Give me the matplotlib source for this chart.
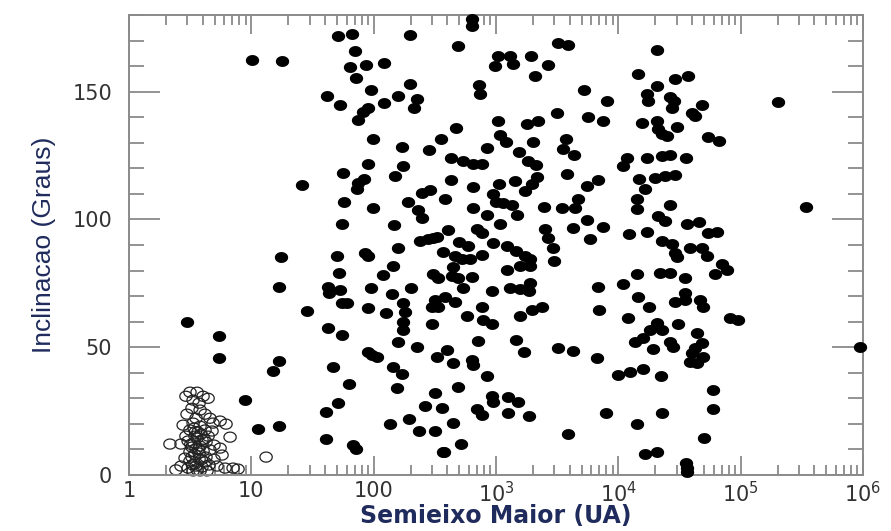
import numpy as np
import matplotlib
matplotlib.use("Agg")
import matplotlib.pyplot as plt
from matplotlib.path import Path
from matplotlib.ticker import MultipleLocator, LogLocator, NullFormatter

plt.rcParams['font.family'] = ['DejaVu Sans']
plt.rcParams['mathtext.fontset'] = 'dejavusans'

# objetos com orbita conhecida (pontos cheios): semieixo maior (UA), inclinacao (graus)
a_cheio = [2.98, 5.44, 5.44, 8.88, 11.3, 16.8, 15.0, 16.8, 16.8, 17.5, 26.0, 10.1, 17.8, 28.5,
           50.2, 85.1, 90.0, 158, 52.1, 42.4, 53.1, 43.2, 95.3, 119, 144, 141, 202, 55.2, 60.6,
           90.0, 126, 174, 181, 174, 174, 300, 300, 306, 42.4, 55.2, 158, 226, 90.0, 97.0, 107,
           330, 46.6, 144, 171, 62.9, 155, 318, 51.2, 40.8, 263, 136, 195, 235, 318, 40.8, 67.9,
           71.8, 369, 51.2, 66.6, 199, 70.5, 64.1, 86.7, 122, 71.8, 199, 95.3, 41.6, 53.1, 158,
           226, 214, 122, 90.0, 81.9, 74.5, 98.9, 171, 284, 356, 90.0, 56.2, 174, 150, 83.5, 74.5,
           73.1, 249, 289, 57.3, 98.9, 191, 231, 249, 55.2, 147, 239, 306,
           638, 638, 490, 3220, 3890, 1040, 1300, 984, 1380, 1940, 2670, 2090, 728, 741, 5250,
           8090, 3160, 5660, 7510, 1040, 1800, 2210, 472, 1080, 1210, 2010, 3740, 3540, 4350,
           11800, 10900, 846, 1550, 430, 538, 650, 770, 1830, 2130, 3810, 430, 650, 1060, 1430,
           2170, 1970, 6840, 5560, 1730, 946, 1000, 1140, 1350, 384, 650, 2470, 3470, 4690, 4430,
           846, 1490, 1080, 5560, 7510, 4270, 700, 770, 406, 279, 330, 499, 2520, 2670, 5880, 946,
           1230, 12300, 369, 591, 1460, 1730, 1900, 463, 528, 614, 770, 2930, 2990, 1570, 1900,
           446, 1230, 336, 438, 490, 638, 538, 929, 1300, 1900, 1570, 1870, 6840, 10900, 318, 384,
           463, 336, 770, 580, 785, 929, 1570, 1970, 2380, 6970, 12000, 714, 1460, 1700, 3220,
           4270, 6710, 398, 446, 638, 650, 846, 490, 929, 946, 1260, 1520, 362, 700, 770, 1260,
           1870, 7950, 446, 3890, 518, 377, 14300,
           20800, 14500, 29200, 37200, 20800, 17200, 17500, 26500, 28600, 27600, 48400, 40100,
           42400, 15700, 20800, 21200, 22800, 25100, 30300, 54200, 66700, 17200, 22800, 26500,
           35800, 14800, 16600, 20000, 24100, 29200, 14300, 14300, 26500, 21200, 24100, 36500,
           45800, 54200, 64300, 17200, 22800, 27600, 29200, 30300, 38700, 48400, 53200, 70600,
           61900, 77600, 14300, 22000, 26500, 35200, 35200, 35200, 29200, 46700, 49400, 14500,
           17900, 82100, 95400, 20800, 18200, 22800, 16000, 13700, 30800, 26500, 28100, 19300,
           44100, 48400, 42400, 40100, 49400, 38700, 44100, 9960, 12500, 16000, 22400, 59600,
           59600, 22800, 50300, 16600, 20800, 35800, 36500, 36500, 949000, 203000, 343000]
inc_cheio = [59.7, 54.2, 45.7, 29.3, 17.9, 19.1, 40.6, 44.5, 73.7, 85.1, 113.5, 162.3, 161.9, 64.0,
             85.8, 87.0, 85.8, 89.0, 79.2, 73.4, 72.2, 71.4, 73.0, 78.4, 81.9, 71.0, 73.0, 67.1, 67.1,
             65.2, 63.2, 67.1, 63.6, 59.7, 56.6, 65.6, 58.9, 78.8, 57.7, 54.6, 51.9, 49.9, 48.0, 46.8, 46.0,
             46.0, 42.1, 42.1, 39.4, 35.5, 33.9, 32.0, 28.1, 24.6, 26.9, 19.9, 21.9, 17.2, 17.2, 14.0, 11.7,
             10.1, 9.0, 171.7, 172.5, 172.1, 165.8, 159.6, 160.4, 161.2, 155.3, 153.0, 150.6, 148.3, 144.8, 148.3,
             147.1, 143.6, 145.5, 143.6, 142.0, 138.9, 131.5, 128.4, 127.2, 131.5, 121.7, 118.2, 121.0, 117.1, 115.9, 114.3,
             112.0, 110.4, 111.6, 106.9, 104.6, 106.9, 103.8, 100.7, 98.3, 97.9, 91.7, 92.9,
             178.3, 175.6, 167.8, 169.0, 168.2, 163.9, 163.9, 160.0, 160.8, 163.9, 160.4, 156.1, 152.6, 149.1, 150.6,
             146.3, 141.6, 140.1, 138.5, 138.5, 137.4, 138.5, 135.8, 133.1, 130.3, 130.3, 131.5, 127.6, 125.3,
             124.1, 121.0, 128.0, 126.4, 124.1, 122.9, 121.7, 121.7, 122.9, 121.3, 117.8, 115.5, 112.8, 113.9, 115.1,
             116.7, 113.9, 115.5, 113.2, 111.2, 110.0, 106.9, 106.5, 105.7, 108.1, 104.6, 105.0, 104.6, 108.1, 104.6,
             101.8, 101.8, 98.3, 99.9, 97.2, 96.8, 96.4, 94.8, 96.0, 92.5, 93.3, 91.3, 96.4, 92.9, 92.5, 90.9,
             89.7, 94.4, 87.4, 89.7, 87.8, 85.8, 84.7, 85.5, 84.7, 84.7, 86.2, 89.0, 83.9, 81.9, 81.9,
             81.2, 80.4, 76.9, 78.0, 76.9, 77.6, 73.0, 71.8, 73.0, 75.3, 72.6, 71.8, 73.4, 74.9, 68.3, 69.5,
             67.5, 65.6, 65.6, 62.4, 60.5, 58.9, 62.4, 64.4, 65.9, 64.4, 61.3, 52.3, 52.7, 48.0, 49.6,
             48.4, 45.7, 48.8, 43.7, 44.9, 42.9, 38.6, 34.3, 30.8, 28.5, 30.4, 28.5, 26.1, 25.8, 23.4, 24.2,
             23.0, 24.2, 20.3, 16.0, 12.1, 9.0, 19.9,
             166.2, 156.9, 154.9, 156.1, 152.2, 149.1, 146.3, 147.9, 146.3, 143.6, 144.8, 141.6,
             140.5, 137.7, 138.5, 135.4, 133.4, 132.7, 136.2, 132.3, 130.7, 124.1, 124.9, 125.3,
             124.1, 115.9, 112.0, 116.3, 117.1, 117.4, 108.1, 104.2, 105.7, 101.4, 99.5, 98.3,
             99.1, 94.8, 95.2, 95.2, 91.7, 90.5, 87.0, 85.1, 89.0, 89.0, 85.8, 82.7,
             78.8, 80.4, 78.8, 79.2, 79.2, 76.9, 71.4, 68.3, 67.5, 68.3, 65.6, 69.5,
             65.6, 61.3, 60.5, 59.3, 56.6, 56.6, 53.5, 51.9, 58.9, 51.9, 49.9, 49.2,
             55.4, 51.5, 49.6, 47.6, 46.0, 44.1, 43.7, 39.0, 40.2, 41.4, 38.6, 33.2,
             25.8, 24.2, 14.4, 8.2, 9.0, 4.7, 2.7, 1.2, 49.9, 145.9, 105.0]

# asteroides / troianos (circulos abertos)
a_aberto = [3.15, 3.60, 2.92, 4.03, 3.34, 4.43, 3.74, 3.27, 3.81, 2.98, 4.18, 3.53, 4.59, 2.77,
            3.34, 3.81, 4.86, 5.55, 6.21, 3.15, 3.67, 4.18, 4.77, 6.70, 3.46, 2.92, 2.16, 2.66,
            3.04, 3.40, 3.81, 4.26, 4.95, 3.53, 4.03, 3.15, 4.59, 5.55, 2.87, 3.27, 3.74, 4.26,
            4.95, 5.76, 2.66, 3.04, 3.46, 3.95, 4.51, 5.24, 6.10, 7.09, 7.78, 2.42, 3.34, 3.81,
            4.34, 3.60, 3.95, 3.27, 3.74, 4.18, 3.53, 3.15, 3.88, 3.40, 4.43, 13.2,
            3.20, 3.70, 3.45, 3.90, 3.30, 3.60, 4.10, 3.50]
inc_aberto = [32.4, 32.4, 30.8, 30.8, 29.3, 30.0, 28.1, 26.1, 25.4, 23.8, 23.8, 22.2, 22.2, 19.5,
              20.3, 19.1, 20.3, 21.1, 19.9, 17.6, 16.8, 17.6, 17.2, 14.8, 15.2, 15.2, 12.1, 12.1,
              13.3, 12.5, 11.3, 12.9, 11.7, 10.1, 9.4, 9.0, 9.8, 10.5, 6.6, 7.0, 6.2, 7.0,
              6.2, 7.8, 3.5, 2.7, 4.3, 3.1, 3.9, 3.5, 2.7, 2.7, 2.3, 2.0, 1.6, 1.6,
              1.6, 14.4, 13.7, 10.9, 8.6, 5.1, 3.5, 5.5, 16.0, 18.3, 15.2, 7.0,
              12.0, 10.0, 8.0, 6.0, 4.0, 2.0, 14.0, 17.0]

x_ticks = [1, 10, 100, 1e3, 1e4, 1e5, 1e6]
x_labels = ['1', '10', '100', '$10^3$', '$10^4$', '$10^5$', '$10^6$']
y_ticks = [0, 50, 100, 150]

t = np.linspace(0, 2 * np.pi, 61)
elipse = Path(np.column_stack([np.cos(t), 0.82 * np.sin(t)]))

fig = plt.figure(figsize=(8.91, 5.31), dpi=100)
ax = fig.add_axes([0.1448, 0.1055, 0.8238, 0.8663])

ax.scatter(a_aberto, inc_aberto, s=78, marker=elipse, facecolors='none',
           edgecolors='#222222', linewidths=0.9, zorder=2, clip_on=False)
ax.scatter(a_cheio, inc_cheio, s=92, marker=elipse, c='black', linewidths=0,
           zorder=3, clip_on=False)

ax.set_xscale('log')
ax.set_xlim(1, 1e6)
ax.set_ylim(0, 180)
ax.set_xticks(x_ticks)
ax.set_xticklabels(x_labels)
ax.xaxis.set_minor_locator(LogLocator(base=10, subs=np.arange(2, 10)))
ax.xaxis.set_minor_formatter(NullFormatter())
ax.set_yticks(y_ticks)
ax.yaxis.set_minor_locator(MultipleLocator(10))

cinza = '#8a8a8a'
for s in ax.spines.values():
    s.set_color(cinza)
    s.set_linewidth(1.4)

ax.tick_params(which='both', direction='in', top=True, right=True, color=cinza, width=1.3,
               labelcolor='#333333', labelsize=15)
ax.tick_params(axis='y', which='major', length=22, pad=12)
ax.tick_params(axis='y', which='minor', length=11)
ax.tick_params(axis='x', which='major', length=14, pad=4)
ax.tick_params(axis='x', which='minor', length=7)

ax.set_xlabel('Semieixo Maior (UA)', fontsize=17, fontweight='bold', color='#1f2b5c', labelpad=-1)
ax.set_ylabel('Inclinacao (Graus)', fontsize=19, color='#1f2b5c', labelpad=12,
              family=['Liberation Sans Narrow', 'Liberation Sans', 'DejaVu Sans'])

fig.savefig('out.png', dpi=100)
